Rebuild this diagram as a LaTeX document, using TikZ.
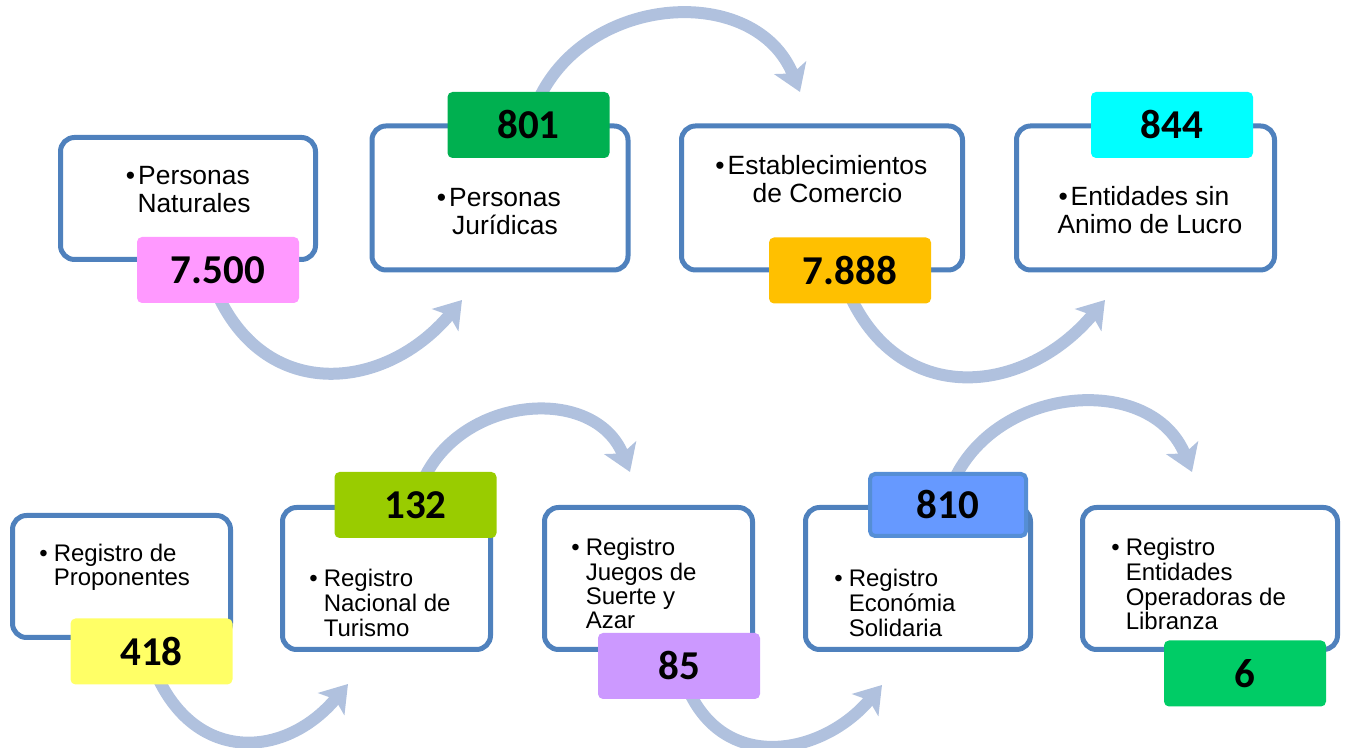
\documentclass[tikz,border=0pt]{standalone}
\usepackage{fontspec}
\setmainfont{Liberation Sans}
\newfontfamily\numfont{Carlito}
\usetikzlibrary{arrows.meta,positioning}
\definecolor{boxblue}{HTML}{4F81BD}
\definecolor{flowblue}{HTML}{B0C1DE}
\definecolor{cpink}{HTML}{FF99FF}
\definecolor{cgreen}{HTML}{00B050}
\definecolor{corange}{HTML}{FFC000}
\definecolor{ccyan}{HTML}{00FFFF}
\definecolor{cyellow}{HTML}{FFFF66}
\definecolor{clime}{HTML}{99CC00}
\definecolor{cpurple}{HTML}{CC99FF}
\definecolor{cblue}{HTML}{6699FF}
\definecolor{cblueline}{HTML}{558ED5}
\definecolor{cmint}{HTML}{00CC66}
\pgfdeclarelayer{bg}
\pgfsetlayers{bg,main}
\newcommand{\topitem}[1]{\begin{tabular}[t]{@{}c@{}}\llap{\textbullet\hspace{1.5pt}}#1\end{tabular}}
\newcommand{\botitem}[1]{\textbullet\hspace{3pt}\begin{tabular}[t]{@{}l@{}}#1\end{tabular}}
\tikzset
{
    regbox/.style = {rectangle, rounded corners=7pt, draw=boxblue,
                     line width=2.5pt, fill=white, inner sep=0pt},
    badge/.style = {rectangle, rounded corners=2.5pt, inner sep=0pt,
                    minimum width=81pt, minimum height=33pt,
                    font=\numfont\bfseries\fontsize{20.5}{24}\selectfont},
    toptext/.style = {inner sep=0pt, anchor=base,
                      font=\fontsize{13.2}{14}\selectfont},
    bottext/.style = {inner sep=0pt, anchor=base west,
                      font=\fontsize{12}{12}\selectfont},
    flow/.style = {draw=flowblue, line width=6pt,
                   -{Stealth[length=13pt,width=17pt,inset=3pt]}}
}

\begin{document}
\begin{tikzpicture}[
        % one unit = one pixel of the original picture
        x=0.5pt, y=0.5pt
      ]
    \useasboundingbox (0,0) rectangle (1345,748);

    % upper row
    \node[regbox, minimum width=127.5pt, minimum height=61pt] (natural) at (188,549.5) {};
    \node[regbox, minimum width=128pt, minimum height=72pt] (juridica) at (500,550) {};
    \node[regbox, minimum width=140.5pt, minimum height=72pt] (comercio) at (822,550) {};
    \node[regbox, minimum width=129pt, minimum height=72pt] (lucro) at (1145.5,550) {};

    \node[toptext] (naturalt) at (194,563) {\topitem{Personas\\Naturales}};
    \node[toptext] (juridicat) at (505,541) {\topitem{Personas\\Jurídicas}};
    \node[toptext] (comerciot) at (827.5,573) {\topitem{Establecimientos\\de Comercio}};
    \node[toptext] (lucrot) at (1150,542) {\topitem{Entidades sin\\Animo de Lucro}};

    \node[badge, fill=cpink] (nnatural) at (218,478) {7.500};
    \node[badge, fill=cgreen] (njuridica) at (528.5,623) {801};
    \node[badge, fill=corange] (ncomercio) at (850,477.5) {7.888};
    \node[badge, fill=ccyan] (nlucro) at (1172,623) {844};

    % lower row
    \node[regbox, minimum width=109pt, minimum height=61pt] (proponentes) at (121.5,171.5) {};
    \node[regbox, minimum width=104pt, minimum height=71pt] (turismo) at (386.5,169.5) {};
    \node[regbox, minimum width=104pt, minimum height=71pt] (juegos) at (648.5,169.5) {};
    \node[regbox, minimum width=112.5pt, minimum height=71pt] (solidaria) at (918,169.5) {};
    \node[regbox, minimum width=127.5pt, minimum height=71pt] (libranza) at (1210,169.5) {};

    \node[bottext] (proponentest) at (39,186) {\botitem{Registro de\\Proponentes}};
    \node[bottext] (turismot) at (309,161) {\botitem{Registro\\Nacional de\\Turismo}};
    \node[bottext] (juegost) at (571,192) {\botitem{Registro\\Juegos de\\Suerte y\\Azar}};
    \node[bottext] (solidariat) at (834,161) {\botitem{Registro\\Económia\\Solidaria}};
    \node[bottext] (libranzat) at (1111,192) {\botitem{Registro\\Entidades\\Operadoras de\\Libranza}};

    \node[badge, fill=cyellow] (nproponentes) at (151.5,96.5) {418};
    \node[badge, fill=clime] (nturismo) at (415.5,243) {132};
    \node[badge, fill=cpurple] (njuegos) at (679,82) {85};
    \node[badge, fill=cblue, draw=cblueline, line width=2pt,
          minimum width=78pt, minimum height=31pt] (nsolidaria) at (948,243) {810};
    \node[badge, fill=cmint] (nlibranza) at (1245,74.5) {6};

    % free ends of the curved arrows
    \coordinate (tip1) at (462,448);
    \coordinate (tip2) at (800,656);
    \coordinate (tip3) at (1105,448);
    \coordinate (tip4) at (348,64);
    \coordinate (tip5) at (630,276);
    \coordinate (tip6) at (882,63);
    \coordinate (tip7) at (1192,276);

    \begin{pgfonlayer}{bg}
        \draw[flow] ([yshift=4pt]nnatural.south) to[out=-65, in=-130, looseness=1.24] (tip1);
        \draw[flow] ([xshift=5pt, yshift=-4pt]njuridica.north) to[out=65, in=112, looseness=1.15] (tip2);
        \draw[flow] ([yshift=4pt]ncomercio.south) to[out=-65, in=-130, looseness=1.24] (tip3);
        \draw[flow] ([xshift=3pt, yshift=4pt]nproponentes.south) to[out=-65, in=-130, looseness=1.29] (tip4);
        \draw[flow] ([xshift=4pt, yshift=-4pt]nturismo.north) to[out=65, in=112, looseness=1.16] (tip5);
        \draw[flow] ([xshift=5pt, yshift=4pt]njuegos.south) to[out=-65, in=-130, looseness=1.2] (tip6);
        \draw[flow] ([xshift=3pt, yshift=-4pt]nsolidaria.north) to[out=65, in=112, looseness=1.14] (tip7);
    \end{pgfonlayer}
\end{tikzpicture}
\end{document}
